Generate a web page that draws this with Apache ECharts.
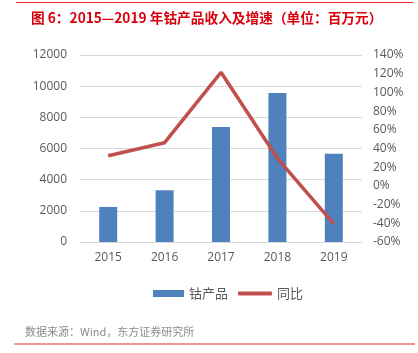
<!DOCTYPE html>
<html>
<head>
<meta charset="utf-8">
<script src="https://cdn.jsdelivr.net/npm/echarts@6/dist/echarts.min.js"></script>
<style>
html,body{margin:0;padding:0;background:#fff;}
#main{width:418px;height:353px;}
</style>
</head>
<body>
<div id="main"></div>
<script>
// 数据
var years = ["2015", "2016", "2017", "2018", "2019"];
var revenue = [2250, 3320, 7380, 9560, 5670];   // 钴产品 百万元
var yoy = [32.3, 46.2, 121.5, 29.5, -40.7];      // 同比 %

var font = "'Open Sans', 'Noto Sans CJK SC', sans-serif";
var cjk = "'Noto Sans CJK SC', sans-serif";

var myChart = echarts.init(document.getElementById("main"));
var option = {
	animation: false,
	textStyle: { fontFamily: font },
	title: {
		text: "图 6：2015—2019 年钴产品收入及增速（单位：百万元）",
		left: 26,
		top: 6,
		textStyle: { fontFamily: cjk, fontSize: 13.7, fontWeight: "bold", color: "#d9000d" }
	},
	graphic: [
		{ type: "line", shape: { x1: 16, y1: 2.5, x2: 413, y2: 2.5 }, style: { stroke: "#e8262e", lineWidth: 1 } },
		{ type: "line", shape: { x1: 14, y1: 344, x2: 415, y2: 344 }, style: { stroke: "#e8262e", lineWidth: 1 } },
		{ type: "text", left: 25, top: 326, style: { text: "数据来源：Wind，东方证券研究所", fill: "#8c8c8c", font: "11px " + cjk } }
	],
	legend: [
		{
			data: ["钴产品"], left: 148, top: 282, itemWidth: 31, itemHeight: 7, itemGap: 4,
			icon: "rect",
			textStyle: { fontFamily: cjk, fontSize: 13, color: "#595959" }
		},
		{
			data: ["同比"], left: 233, top: 282, itemWidth: 34, itemHeight: 4,
			icon: "roundRect",
			textStyle: { fontFamily: cjk, fontSize: 13, color: "#595959" }
		}
	],
	grid: { left: 80, right: 56, top: 55, bottom: 111 },
	xAxis: {
		type: "category",
		data: years,
		axisTick: { show: false },
		axisLine: { lineStyle: { color: "#d9d9d9" } },
		axisLabel: { color: "#595959", fontSize: 12, margin: 10 }
	},
	yAxis: [
		{
			type: "value", min: 0, max: 12000, interval: 2000,
			axisLabel: { color: "#595959", fontSize: 12, margin: 13, formatter: function (v) { return String(v); } },
			splitLine: { lineStyle: { color: "#d9d9d9" } },
			axisLine: { show: false }, axisTick: { show: false }
		},
		{
			type: "value", min: -60, max: 140, interval: 20,
			axisLabel: { color: "#595959", fontSize: 12, margin: 11, formatter: "{value}%" },
			splitLine: { show: false },
			axisLine: { show: false }, axisTick: { show: false }
		}
	],
	series: [
		{
			name: "钴产品", type: "bar", data: revenue, barWidth: 18,
			itemStyle: { color: "#4f81bd" }
		},
		{
			name: "同比", type: "line", yAxisIndex: 1, data: yoy,
			symbol: "none",
			lineStyle: { color: "#c0504d", width: 3.5 },
			itemStyle: { color: "#c0504d" }
		}
	]
};
myChart.setOption(option);
</script>
</body>
</html>
